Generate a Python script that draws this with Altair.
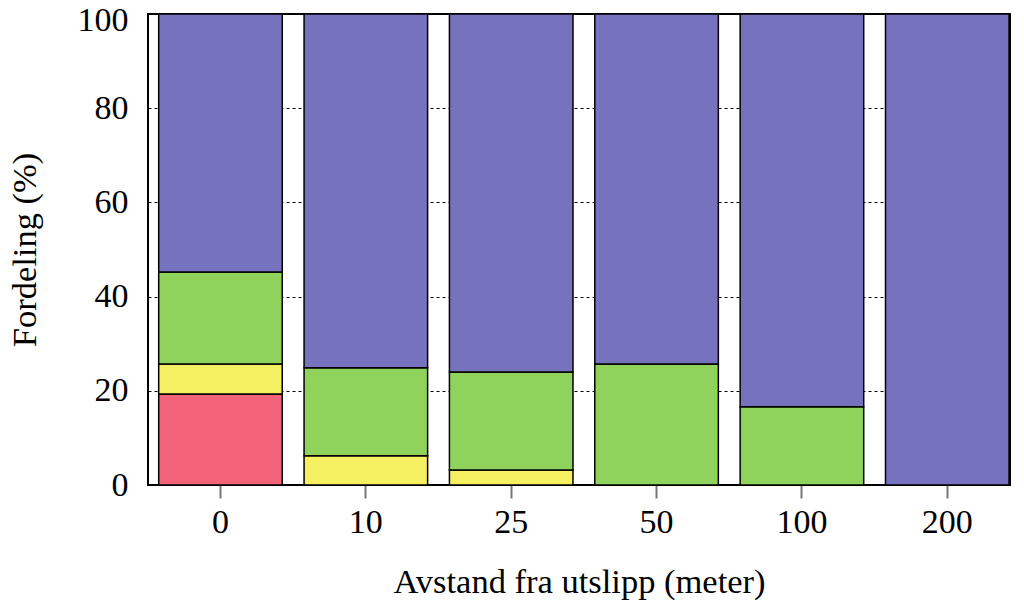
import altair as alt
import pandas as pd

distances = ["0", "10", "25", "50", "100", "200"]
classes = ["Rød", "Gul", "Grønn", "Lilla"]
colors = ["#F2637A", "#F5EF62", "#90D35C", "#7672BE"]
red = [19.3, 0, 0, 0, 0, 0]
yellow = [6.4, 6.2, 3.2, 0, 0, 0]
green = [19.5, 18.7, 20.8, 25.7, 16.6, 0]
purple = [54.8, 75.1, 76.0, 74.3, 83.4, 100.0]

rows = []
for series, name, order in [(red, "Rød", 0), (yellow, "Gul", 1), (green, "Grønn", 2), (purple, "Lilla", 3)]:
    for d, v in zip(distances, series):
        if v > 0:
            rows.append({"avstand": d, "klasse": name, "verdi": v, "ord": order})
df = pd.DataFrame(rows)

FONT = "Liberation Serif"

chart = alt.Chart(df).mark_bar(stroke="black", strokeWidth=1.5).encode(
    x=alt.X("avstand:N", sort=distances,
            scale=alt.Scale(paddingInner=0.15, paddingOuter=0.04, align=0.92),
            axis=alt.Axis(title="Avstand fra utslipp (meter)", labelAngle=0,
                          domain=False, ticks=True, tickSize=13, tickColor="#777777",
                          tickWidth=2, labelPadding=7, titlePadding=26, grid=False)),
    y=alt.Y("verdi:Q", stack="zero",
            scale=alt.Scale(domain=[0, 100], nice=False),
            axis=alt.Axis(title="Fordeling (%)", values=[0, 20, 40, 60, 80, 100],
                          domain=False, ticks=False, labelPadding=20, titlePadding=35,
                          labelOffset={"condition": {"test": "datum.value == 100", "value": 6}, "value": 0},
                          grid=True, gridColor="black", gridDash=[3, 3], gridWidth=1,
                          gridOpacity=1)),
    color=alt.Color("klasse:N", scale=alt.Scale(domain=classes, range=colors), legend=None),
    order=alt.Order("ord:Q", sort="ascending"),
).properties(
    width=862, height=471,
    autosize=alt.AutoSizeParams(type="none"),
    padding={"left": 140, "top": 6, "right": 6, "bottom": 120},
).configure_view(
    stroke="black", strokeWidth=2
).configure_axis(
    labelFont=FONT, titleFont=FONT, labelFontSize=34, titleFontSize=34.5,
    labelColor="black", titleColor="black", titleFontWeight="normal"
)

chart.save("out.html", embed_options={"renderer": "svg", "actions": False})
